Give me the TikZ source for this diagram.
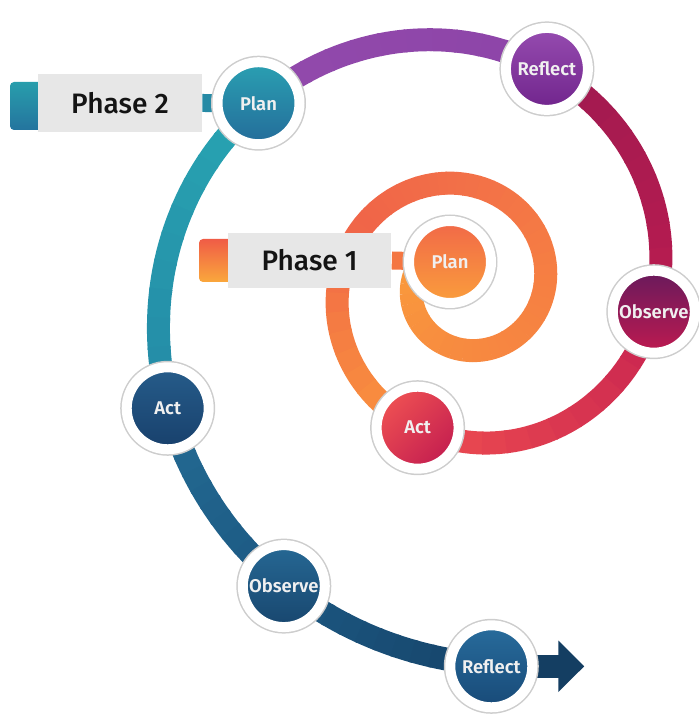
\documentclass[tikz,border=0pt]{standalone}
\usepackage{fontspec}
\setmainfont{Fira Sans}
\newfontfamily\stagefont{Fira Sans SemiBold}
\newfontfamily\phasefont{Fira Sans Medium}
\usetikzlibrary{arrows.meta,backgrounds}

\definecolor{ringgray}{RGB}{205,205,205}
\definecolor{boxgray}{RGB}{231,231,231}
% цвета спирали
\definecolor{or1}{RGB}{250,156,60}
\definecolor{or2}{RGB}{247,138,64}
\definecolor{or3}{RGB}{246,128,66}
\definecolor{or4}{RGB}{242,112,72}
\definecolor{or5}{RGB}{240,100,72}
\definecolor{or6}{RGB}{250,150,60}
\definecolor{rd1}{RGB}{239,78,80}
\definecolor{rd2}{RGB}{200,36,80}
\definecolor{rd3}{RGB}{186,28,80}
\definecolor{rd4}{RGB}{160,26,80}
\definecolor{pu1}{RGB}{141,68,168}
\definecolor{pu2}{RGB}{146,74,172}
\definecolor{te1}{RGB}{40,166,178}
\definecolor{te2}{RGB}{36,138,166}
\definecolor{bl1}{RGB}{36,108,148}
\definecolor{bl2}{RGB}{28,88,130}
\definecolor{bl3}{RGB}{22,68,106}
\definecolor{arrowblue}{RGB}{20,62,98}
% цвета этапов
\definecolor{pltop}{RGB}{241,104,72}
\definecolor{plbot}{RGB}{250,158,60}
\definecolor{actop}{RGB}{238,80,82}
\definecolor{acbot}{RGB}{196,30,80}
\definecolor{obtop}{RGB}{104,26,92}
\definecolor{obbot}{RGB}{190,26,80}
\definecolor{retop}{RGB}{150,76,176}
\definecolor{rebot}{RGB}{112,36,140}
\definecolor{pttop}{RGB}{42,160,178}
\definecolor{ptbot}{RGB}{36,108,154}
\definecolor{attop}{RGB}{38,92,138}
\definecolor{atbot}{RGB}{24,64,108}
\definecolor{ottop}{RGB}{38,104,148}
\definecolor{otbot}{RGB}{24,70,110}
\definecolor{rttop}{RGB}{40,108,156}
\definecolor{rtbot}{RGB}{24,74,120}
\definecolor{tabtwotop}{RGB}{40,158,172}
\definecolor{tabtwobot}{RGB}{36,116,158}
\definecolor{tabonetop}{RGB}{240,92,70}
\definecolor{tabonebot}{RGB}{250,168,60}
\definecolor{stubteal}{RGB}{38,138,165}
\definecolor{stuborange}{RGB}{244,118,66}

\tikzset{
	band/.style={line width=0.46cm},
	stage/.style={circle, minimum size=1.64cm, inner sep=0pt, draw=white, line width=0.2cm,
		preaction={draw=ringgray, line width=0.26cm},
		text=white!94!black, font=\stagefont\fontsize{10.5}{12}\selectfont},
	phasebox/.style={fill=boxgray, minimum width=3.28cm, minimum height=1.16cm, inner sep=0pt,
		font=\phasefont\fontsize{16}{19}\selectfont, text=black!92},
	phasetab/.style={rounded corners=0.08cm, minimum width=0.72cm, inner sep=0pt},
	stub/.style={line width=0.36cm},
	declare function={sr(\t)=65*exp(0.0024469*(\t-270));}
}

\begin{document}
\begin{tikzpicture}[x=0.02cm, y=0.02cm]
	\useasboundingbox ( 0, 0 ) rectangle ( 699, 720 );

	% спираль
	\foreach \ta/\tb/\ca/\cb in {150/270/or1/or2, 270/360/or2/or3, 360/450/or3/or4, 450/510/or4/or5,
		510/612/or5/or6, 612/712/rd1/rd2, 712/789/rd3/rd4, 789/858.5/pu1/pu2,
		858.5/922.6/te1/te2, 922.6/959.1/bl1/bl2, 959.1/994.1/bl2/bl3}{
		\foreach \i in {0,...,11}{
			\pgfmathsetmacro{\sa}{\ta+(\tb-\ta)*\i/12-0.5}
			\pgfmathsetmacro{\sb}{\ta+(\tb-\ta)*(\i+1)/12}
			\pgfmathtruncatemacro{\pc}{(\i+0.5)*100/12}
			\draw[band, draw=\cb!\pc!\ca] plot[variable=\t, domain=\sa:\sb, samples=4, smooth]
				( {464+sr(\t)*cos(\t)}, {435+sr(\t)*sin(\t)} );
		}
	}

	% фаза 1
	\node[phasetab, minimum height=0.86cm, top color=tabonetop, bottom color=tabonebot] (tabone) at ( 217, 459.5 ) {};
	\node[phasebox, minimum height=1.1cm] (phaseone) at ( 309.5, 459.5 ) {Phase 1};

	% фаза 2
	\node[phasetab, minimum height=0.96cm, top color=tabtwotop, bottom color=tabtwobot] (tabtwo) at ( 28, 614 ) {};
	\node[phasebox] (phasetwo) at ( 120, 617 ) {Phase 2};

	% этапы фазы 1
	\node[stage, top color=pltop, bottom color=plbot] (plan1) at ( 450, 458 ) {Plan};
	\node[stage, top color=actop, bottom color=acbot, shading angle=45] (act1) at ( 417.6, 292.3 ) {Act};
	\node[stage, top color=obtop, bottom color=obbot] (observe1) at ( 653.8, 408.3 ) {Observe};
	\node[stage, top color=retop, bottom color=rebot] (reflect1) at ( 546.9, 651.1 ) {Reflect};

	% этапы фазы 2
	\node[stage, top color=pttop, bottom color=ptbot] (plan2) at ( 258.5, 616.8 ) {Plan};
	\node[stage, top color=attop, bottom color=atbot] (act2) at ( 167.7, 311.7 ) {Act};
	\node[stage, top color=ottop, bottom color=otbot] (observe2) at ( 283.8, 133.9 ) {Observe};
	\node[stage, top color=rttop, bottom color=rtbot] (reflect2) at ( 491.3, 53.7 ) {Reflect};

	% связки и стрелка
	\begin{scope}[on background layer]
		\draw[stub, stuborange] (phaseone.east) -- (plan1);
		\draw[stub, stubteal] (phasetwo.east) -- (plan2);
		\draw[band, arrowblue, -{Triangle[width=1cm, length=0.52cm]}] (reflect2) -- ++( 93, 0 );
	\end{scope}
\end{tikzpicture}
\end{document}
